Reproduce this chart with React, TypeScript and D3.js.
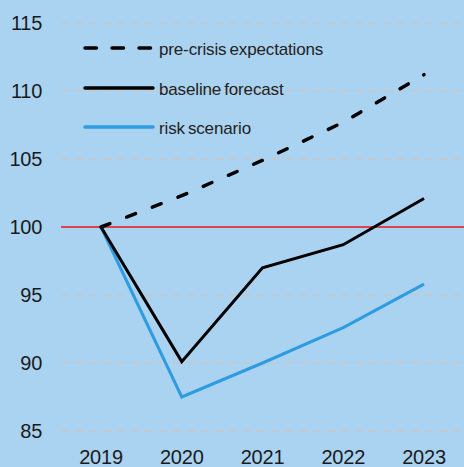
import React from "react";
import * as d3 from "d3";

const years = ["2019", "2020", "2021", "2022", "2023"];
const preCrisis = [100, 102.3, 104.9, 107.7, 111.2];
const baseline = [100, 90.1, 97.0, 98.7, 102.1];
const risk = [100, 87.5, 90.0, 92.6, 95.8];
const yTicks = [85, 90, 95, 100, 105, 110, 115];

const W = 464, H = 467;

export default function App() {
  const x = d3.scalePoint<string>().domain(years).range([101, 424]);
  const y = d3.scaleLinear().domain([85, 115]).range([431, 23]);
  const line = d3.line<number>().x((_, i) => x(years[i])!).y((d) => y(d));
  const font = "'Liberation Sans', Arial, sans-serif";
  const legend = [
    { label: "pre-crisis expectations", color: "#000", dash: "11.5,15.5", y: 48 },
    { label: "baseline forecast", color: "#000", dash: undefined, y: 88 },
    { label: "risk scenario", color: "#2f9be0", dash: undefined, y: 127 },
  ];
  return (
    <svg width={W} height={H} style={{ position: "absolute", left: 0, top: 0, display: "block" }}>
      <rect x={0} y={0} width={W} height={H} fill="#aad3f2" />
      {yTicks.filter((t) => t !== 100).map((t) => (
        <line key={t} x1={61} x2={W} y1={y(t)} y2={y(t)} stroke="#c9c7c4" strokeWidth={1.5} strokeDasharray="8,6" />
      ))}
      {yTicks.map((t) => (
        <text key={t} x={42} y={y(t)} dy="0.35em" textAnchor="end" fontFamily={font} fontSize={20} fill="#1a1a1a" letterSpacing="-0.3">{t}</text>
      ))}
      {years.map((yr) => (
        <text key={yr} x={x(yr)} y={464} textAnchor="middle" fontFamily={font} fontSize={20} fill="#1a1a1a" letterSpacing="-0.2">{yr}</text>
      ))}
      <line x1={61} x2={W} y1={y(100)} y2={y(100)} stroke="#e8141c" strokeWidth={1.5} />
      <path d={line(preCrisis)!} fill="none" stroke="#000" strokeWidth={3.5} strokeDasharray="9.5,18" strokeLinecap="round" />
      <path d={line(risk)!} fill="none" stroke="#2f9be0" strokeWidth={3} />
      <path d={line(baseline)!} fill="none" stroke="#000" strokeWidth={3} />
      {legend.map((l) => (
        <g key={l.label}>
          <line x1={85} x2={153} y1={l.y} y2={l.y} stroke={l.color} strokeWidth={3.5} strokeDasharray={l.dash} strokeLinecap="round" />
          <text x={159} y={l.y + 1} dy="0.35em" fontFamily={font} fontSize={17} fill="#222" letterSpacing="-0.15" wordSpacing="-1.5">{l.label}</text>
        </g>
      ))}
    </svg>
  );
}
